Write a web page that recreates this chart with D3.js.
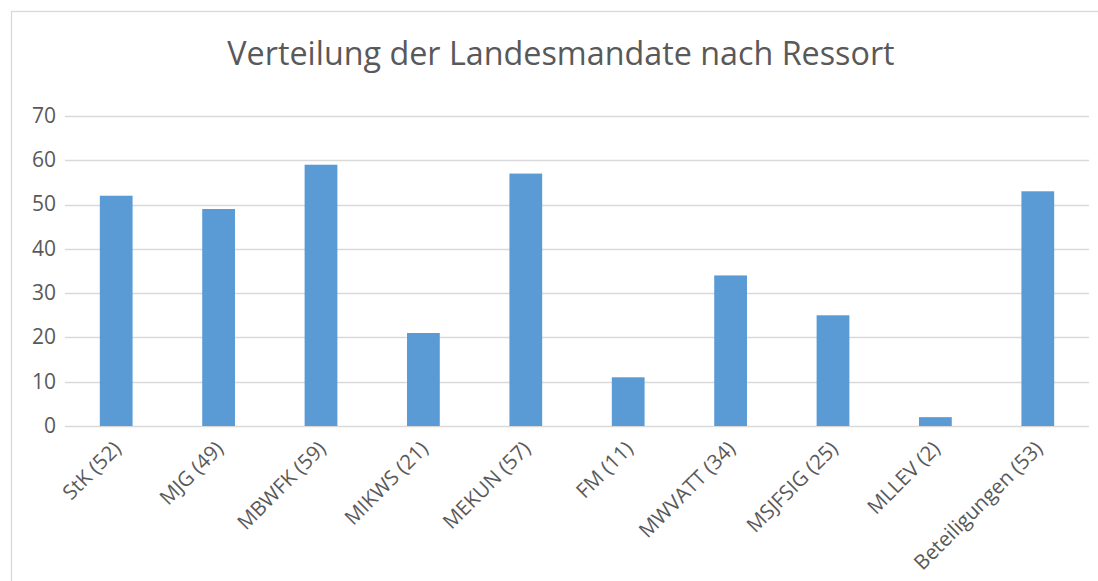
<!DOCTYPE html>
<html>
<head>
<meta charset="utf-8">
<script src="https://cdn.jsdelivr.net/npm/d3@7"></script>
<style>
  body { margin: 0; background: #fff; }
  text { font-family: "Open Sans", sans-serif; fill: #595959; }
</style>
</head>
<body>
<div id="chart"></div>
<script>
const categories = ["StK (52)", "MJG (49)", "MBWFK (59)", "MIKWS (21)", "MEKUN (57)",
  "FM (11)", "MWVATT (34)", "MSJFSIG (25)", "MLLEV (2)", "Beteiligungen (53)"];
const values = [52, 49, 59, 21, 57, 11, 34, 25, 2, 53];
const yTicks = [0, 10, 20, 30, 40, 50, 60, 70];

const width = 1098, height = 581;
const plot = { left: 65, right: 1089, top: 116, bottom: 426 };

const svg = d3.select("#chart").append("svg")
  .attr("width", width)
  .attr("height", height);

// chart frame
svg.append("rect")
  .attr("x", 11.5).attr("y", 11.5)
  .attr("width", width + 20).attr("height", height + 20)
  .attr("fill", "none")
  .attr("stroke", "#d9d9d9")
  .attr("stroke-width", 1.3);

const x = d3.scaleBand()
  .domain(categories)
  .range([plot.left, plot.right])
  .paddingInner(0.68)
  .paddingOuter(0.34);

const y = d3.scaleLinear()
  .domain([0, 70])
  .range([plot.bottom, plot.top]);

// gridlines
svg.append("g")
  .selectAll("line")
  .data(yTicks)
  .enter().append("line")
  .attr("x1", plot.left)
  .attr("x2", plot.right)
  .attr("y1", d => Math.round(y(d)) + 0.5)
  .attr("y2", d => Math.round(y(d)) + 0.5)
  .attr("stroke", "#d9d9d9")
  .attr("stroke-width", 1.3);

// y labels
const yAxis = svg.append("g")
  .attr("transform", `translate(${plot.left},0)`)
  .call(d3.axisLeft(y).tickValues(yTicks).tickSize(0).tickPadding(9));
yAxis.select(".domain").remove();
yAxis.selectAll("text")
  .attr("font-size", 21)
  .attr("font-family", "Open Sans, sans-serif")
  .attr("fill", "#595959")
  .attr("dy", "0.3em");

// bars
svg.append("g")
  .selectAll("rect")
  .data(values)
  .enter().append("rect")
  .attr("x", (d, i) => x(categories[i]))
  .attr("y", d => y(d))
  .attr("width", x.bandwidth())
  .attr("height", d => y(0) - y(d))
  .attr("fill", "#5b9bd5");

// x labels, rotated
const xAxis = svg.append("g")
  .attr("transform", `translate(0,${y(0)})`)
  .call(d3.axisBottom(x).tickSize(0).tickPadding(0));
xAxis.select(".domain").remove();
xAxis.selectAll("text")
  .attr("font-size", 20.5)
  .attr("font-family", "Open Sans, sans-serif")
  .attr("fill", "#595959")
  .attr("text-anchor", "end")
  .attr("dy", null)
  .attr("y", 0)
  .attr("transform", "translate(6,24) rotate(-45)");

// title
svg.append("text")
  .attr("x", 561)
  .attr("y", 65)
  .attr("text-anchor", "middle")
  .attr("font-size", 32.3)
  .text("Verteilung der Landesmandate nach Ressort");
</script>
</body>
</html>
